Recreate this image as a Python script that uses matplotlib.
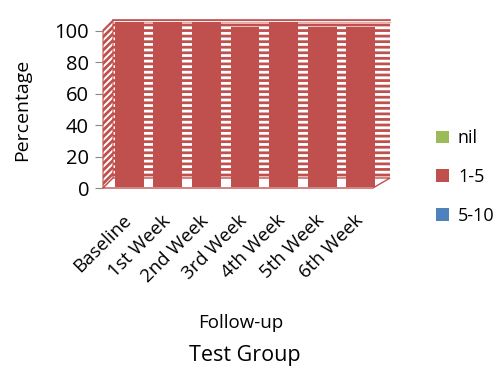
import matplotlib
matplotlib.use("Agg")
import matplotlib.pyplot as plt
from matplotlib import transforms
from matplotlib.patches import Polygon

plt.rcParams['font.family'] = ['Open Sans', 'DejaVu Sans']
plt.rcParams['hatch.linewidth'] = 2.0

weeks = ["Baseline", "1st Week", "2nd Week", "3rd Week", "4th Week", "5th Week", "6th Week"]
nil = [0, 0, 0, 0, 0, 0, 0]
one_five = [100, 100, 100, 97, 100, 97, 97]
five_ten = [0, 0, 0, 0, 0, 0, 0]

green = "#9BBB59"
red = "#C0504D"
blue = "#4F81BD"

W, H = 500, 378
fig = plt.figure(figsize=(W / 100, H / 100), dpi=100)

# background axes in pixel units for the 3d walls and floor
bg = fig.add_axes([0, 0, 1, 1], zorder=0)
bg.set_xlim(0, W)
bg.set_ylim(H, 0)
bg.axis("off")

back = Polygon([(113, 178), (113, 20), (390, 20), (390, 178)], closed=True,
               facecolor="white", edgecolor=red, hatch="---", lw=0)
bg.add_patch(back)
bg.plot([113, 390], [19.5, 19.5], color=red, lw=1.2)
bg.plot([113, 390], [22, 22], color="#E8A8A6", lw=1)
side = Polygon([(103, 188), (103, 30), (113, 20), (113, 178)], closed=True,
               facecolor="white", edgecolor=red, hatch="/////", lw=0)
bg.add_patch(side)
bg.add_patch(Polygon([(103, 188), (103, 30), (113, 20), (113, 178)], closed=True,
                     fill=False, edgecolor=red, lw=0.8))
floor = Polygon([(103, 188), (373, 188), (390, 178), (113, 178)], closed=True,
                facecolor="white", edgecolor=red, lw=1.0)
bg.add_patch(floor)

# front axes carrying the ticks
ax = fig.add_axes([103 / W, 1 - 188 / H, 270 / W, 157 / H], zorder=1)
ax.patch.set_visible(False)
ax.set_xlim(-0.5, 6.5)
ax.set_ylim(0, 100)
ax.set_yticks([0, 20, 40, 60, 80, 100])
ax.tick_params(axis="y", labelsize=14.5, length=6, color="#888888", pad=4)
for s in ["top", "right", "bottom", "left"]:
    ax.spines[s].set_visible(False)
ax.set_xticks(range(len(weeks)))
ax.set_xticklabels(weeks, rotation=45, ha="right", rotation_mode="anchor", fontsize=13.5)
ax.tick_params(axis="x", length=0, pad=17)
for lab in ax.get_xticklabels():
    lab.set_transform(lab.get_transform() + transforms.ScaledTranslation(0, 0, fig.dpi_scale_trans))
ax.set_ylabel("Percentage", fontsize=14)
ax.yaxis.set_label_coords(-0.265, 0.5)
ax.set_xlabel("Follow-up", fontsize=13.5)
ax.xaxis.set_label_coords(0.51, -0.8)

# bars drawn on a twin axis, pushed back into the box
ax2 = ax.twinx()
ax2.set_zorder(2)
ax2.patch.set_visible(False)
ax2.set_ylim(-0.6, 94.6)
ax2.axis("off")
shift = transforms.offset_copy(ax2.transData, fig=fig, x=7, y=0, units="dots")
xs = list(range(len(weeks)))
b_nil = ax2.bar(xs, nil, width=0.75, color=green, transform=shift, clip_on=False, label="nil")
b_mid = ax2.bar(xs, one_five, width=0.75, bottom=nil, color=red, transform=shift,
                clip_on=False, label="1-5")
tops = [a + b for a, b in zip(nil, one_five)]
b_hi = ax2.bar(xs, five_ten, width=0.75, bottom=tops, color=blue, transform=shift,
               clip_on=False, label="5-10")

fig.legend(handles=[b_nil, b_mid, b_hi], labels=["nil", "1-5", "5-10"],
           loc="center left", bbox_to_anchor=(420 / W, 1 - 177 / H), frameon=False,
           fontsize=13, handlelength=0.7, handleheight=0.7, handletextpad=0.5,
           labelspacing=1.15)

fig.text(245 / W, 1 - 355 / H, "Test Group", ha="center", va="center", fontsize=15.5)

fig.savefig("out.png", dpi=100)
